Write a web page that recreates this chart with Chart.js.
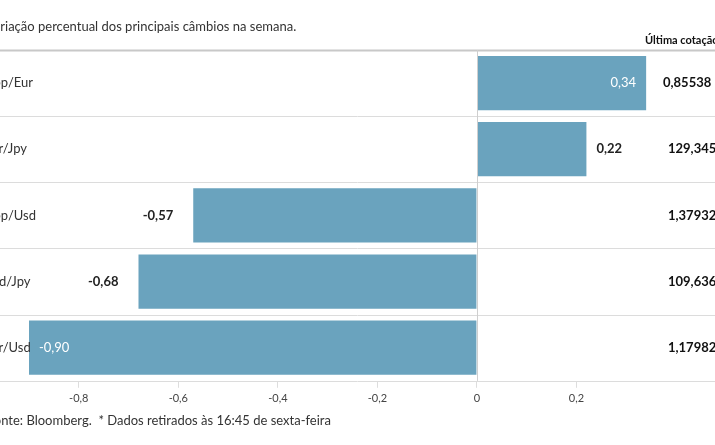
<!DOCTYPE html><html><head><meta charset="utf-8">
<script src="https://cdn.jsdelivr.net/npm/chart.js@4"></script>
<style>body{margin:0;background:#fff}#w{width:715px;height:445px;position:relative}</style></head>
<body><div id="w"><canvas id="c"></canvas></div>
<script>
const categories=["Gbp/Eur","Eur/Jpy","Gbp/Usd","Usd/Jpy","Eur/Usd"];
const changes=[0.34,0.22,-0.57,-0.68,-0.90];
const lastQuotes=["0,85538","129,345","1,37932","109,636","1,17982"];
const xTicks=[-0.8,-0.6,-0.4,-0.2,0,0.2];
const F="Lato, 'Open Sans', sans-serif";
const fmt=v=>v.toFixed(2).replace('.',',');
const deco={id:'deco',afterDraw(ch){
 const c=ch.ctx,a=ch.chartArea,x=ch.scales.x,y=ch.scales.y;
 c.save();
 c.strokeStyle='#d6d6d6';c.lineWidth=1;
 const n=categories.length,h=(a.bottom-a.top)/n;
 for(let i=0;i<=n;i++){const yy=Math.round(a.top+i*h)+0.5;c.strokeStyle=i==0?'#c8c8c8':'#dcdcdc';c.lineWidth=i==0?2:1;c.beginPath();c.moveTo(0,yy);c.lineTo(715,yy);c.stroke();}
 const z=Math.round(x.getPixelForValue(0))+0.5;c.strokeStyle='#cfcfcf';c.lineWidth=1;c.beginPath();c.moveTo(z,a.top);c.lineTo(z,a.bottom);c.stroke();
 c.textBaseline='middle';
 categories.forEach((k,i)=>{const yc=y.getPixelForValue(i);
  c.font="13px "+F;c.fillStyle='#333';c.textAlign='left';c.fillText(k,-16,yc);
  const v=changes[i],bx=x.getPixelForValue(v),inside=Math.abs(v)>=0.3&&(v>0.3||v<-0.8);
  if(inside){c.fillStyle='#fff';c.font="13px "+F;c.textAlign=v>0?'right':'left';c.fillText(fmt(v),v>0?bx-10:bx+10,yc);}
  else{c.fillStyle='#222';c.font="bold 13px "+F;c.textAlign=v>0?'left':'right';c.fillText(fmt(v),v>0?bx+10:bx-20,yc);}
  c.fillStyle='#111';c.font="bold 13px "+F;c.textAlign='left';c.fillText(lastQuotes[i],i==0?663:668,yc);
 });
 c.font="13px "+F;c.fillStyle='#333';c.textAlign='left';
 c.fillText("Variação percentual dos principais câmbios na semana.",-14,27);
 c.fillText("Fonte: Bloomberg.  * Dados retirados às 16:45 de sexta-feira",-13,421);
 c.font="bold 11px "+F;c.fillStyle='#111';c.fillText("Última cotação",645,40);
 c.restore();}};
new Chart(document.getElementById('c'),{type:'bar',
 data:{labels:categories,datasets:[{data:changes,backgroundColor:'#6aa3be',categoryPercentage:0.82,barPercentage:1}]},
 options:{indexAxis:'y',responsive:true,maintainAspectRatio:false,animation:false,
  layout:{padding:{left:29,right:39,top:50,bottom:36}},
  plugins:{legend:{display:false},tooltip:{enabled:false}},
  scales:{y:{display:false},
   x:{min:-0.9,max:0.4,afterBuildTicks:s=>{s.ticks=xTicks.map(v=>({value:v}));},
    border:{display:false},grid:{drawOnChartArea:false,tickLength:7,color:'#ddd'},
    ticks:{padding:4,color:'#444',font:{family:F,size:11},callback:v=>v===0?'0':String(v).replace('.',',')}}}},
 plugins:[deco]});
</script></body></html>
